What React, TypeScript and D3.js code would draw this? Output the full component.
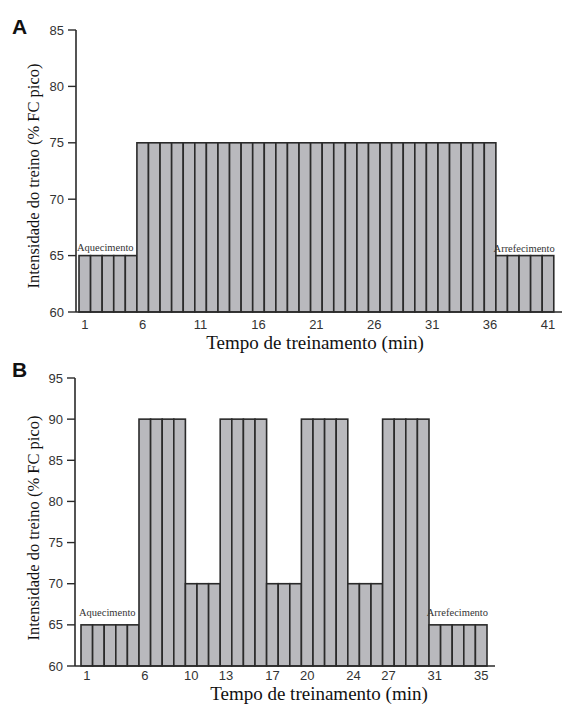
import React from "react";
import * as d3 from "d3";

const minutesA: number[] = d3.range(1, 42);
const intensityA: number[] = [
  65, 65, 65, 65, 65,
  75, 75, 75, 75, 75, 75, 75, 75, 75, 75, 75, 75, 75, 75, 75, 75,
  75, 75, 75, 75, 75, 75, 75, 75, 75, 75, 75, 75, 75, 75, 75,
  65, 65, 65, 65, 65,
];
const yTicksA: number[] = [60, 65, 70, 75, 80, 85];
const xTickLabelsA: number[] = [1, 6, 11, 16, 21, 26, 31, 36, 41];

const minutesB: number[] = d3.range(1, 36);
const intensityB: number[] = [
  65, 65, 65, 65, 65,
  90, 90, 90, 90,
  70, 70, 70,
  90, 90, 90, 90,
  70, 70, 70,
  90, 90, 90, 90,
  70, 70, 70,
  90, 90, 90, 90,
  65, 65, 65, 65, 65,
];
const yTicksB: number[] = [60, 65, 70, 75, 80, 85, 90, 95];
const xTickLabelsB: number[] = [1, 6, 10, 13, 17, 20, 24, 27, 31, 35];

const serif = "'Liberation Serif', 'Times New Roman', serif";
const sans = "'Liberation Sans', Arial, sans-serif";
const barFill = "#b9b9bd";
const ink = "#2a2a2a";

type PanelProps = {
  letter: string;
  letterY: number;
  minutes: number[];
  values: number[];
  yTicks: number[];
  xTicks: number[];
  axisX: number;
  axisEnd: number;
  barStart: number;
  barWidth: number;
  yTop: number;
  yBottom: number;
  yMax: number;
  tickLabelY: number;
  titleY: number;
  titleX: number;
  warmY: number;
  coolY: number;
  yLabelY: number;
};

function Panel(p: PanelProps) {
  const x = d3
    .scaleBand<number>()
    .domain(p.minutes)
    .range([p.barStart, p.barStart + p.minutes.length * p.barWidth])
    .padding(0);
  const y = d3.scaleLinear().domain([60, p.yMax]).range([p.yBottom, p.yTop]);
  const first = p.minutes[0];
  const last = p.minutes[p.minutes.length - 1];
  return (
    <g>
      <text x={12} y={p.letterY} fontFamily={sans} fontWeight="bold" fontSize={21} fill="#111">
        {p.letter}
      </text>
      {p.minutes.map((m, i) => (
        <rect
          key={m}
          x={x(m)}
          y={y(p.values[i])}
          width={x.bandwidth()}
          height={y(60) - y(p.values[i])}
          fill={barFill}
          stroke={ink}
          strokeWidth={1.6}
        />
      ))}
      <line x1={p.axisX} x2={p.axisX} y1={y(p.yMax)} y2={y(60)} stroke={ink} strokeWidth={1.6} />
      <line x1={p.axisX} x2={p.axisEnd} y1={y(60)} y2={y(60)} stroke={ink} strokeWidth={1.6} />
      {p.yTicks.map((t) => (
        <g key={t}>
          <line x1={p.axisX - 8} x2={p.axisX} y1={y(t)} y2={y(t)} stroke={ink} strokeWidth={1.4} />
          <text
            x={p.axisX - 12}
            y={y(t)}
            dy="0.35em"
            textAnchor="end"
            fontFamily={sans}
            fontSize={13}
            fill="#333"
          >
            {t}
          </text>
        </g>
      ))}
      {p.xTicks.map((t) => (
        <text
          key={t}
          x={(x(t) ?? 0) + x.bandwidth() / 2}
          y={p.tickLabelY}
          dy="0.35em"
          textAnchor="middle"
          fontFamily={sans}
          fontSize={13}
          fill="#333"
        >
          {t}
        </text>
      ))}
      <text
        x={p.titleX}
        y={p.titleY}
        dy="0.35em"
        textAnchor="middle"
        fontFamily={serif}
        fontSize={19}
        fill="#111"
      >
        Tempo de treinamento (min)
      </text>
      <text
        transform={`translate(33,${p.yLabelY}) rotate(-90)`}
        textAnchor="middle"
        dy="0.35em"
        fontFamily={serif}
        fontSize={16.5}
        fill="#111"
      >
        Intensidade do treino (% FC pico)
      </text>
      <text
        x={(x(first) ?? 0) - 2}
        y={p.warmY}
        dy="0.35em"
        fontFamily={serif}
        fontSize={10.5}
        fill="#333"
      >
        Aquecimento
      </text>
      <text
        x={(x(last) ?? 0) + x.bandwidth() + 1}
        y={p.coolY}
        dy="0.35em"
        textAnchor="end"
        fontFamily={serif}
        fontSize={10.5}
        fill="#333"
      >
        Arrefecimento
      </text>
    </g>
  );
}

export default function App() {
  return (
    <svg
      width={563}
      height={705}
      viewBox="0 0 563 705"
      style={{ display: "block", position: "absolute", left: 0, top: 0 }}
    >
      <rect width={563} height={705} fill="#fff" />
      <Panel
        letter="A"
        letterY={34}
        minutes={minutesA}
        values={intensityA}
        yTicks={yTicksA}
        xTicks={xTickLabelsA}
        axisX={76}
        axisEnd={562}
        barStart={79}
        barWidth={11.58}
        yTop={30}
        yBottom={312}
        yMax={85}
        tickLabelY={324}
        titleY={342}
        titleX={315}
        warmY={247}
        coolY={248}
        yLabelY={176}
      />
      <Panel
        letter="B"
        letterY={377}
        minutes={minutesB}
        values={intensityB}
        yTicks={yTicksB}
        xTicks={xTickLabelsB}
        axisX={75}
        axisEnd={495}
        barStart={81}
        barWidth={11.6}
        yTop={378}
        yBottom={666}
        yMax={95}
        tickLabelY={675}
        titleY={693}
        titleX={319}
        warmY={612}
        coolY={612}
        yLabelY={528}
      />
    </svg>
  );
}
